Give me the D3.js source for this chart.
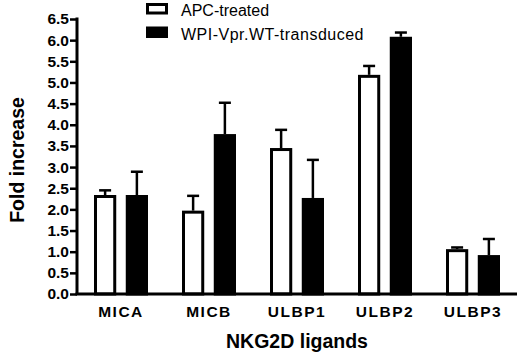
<!DOCTYPE html>
<html>
<head>
<meta charset="utf-8">
<script src="https://cdn.jsdelivr.net/npm/d3@7"></script>
<style>
  body { margin: 0; background: #fff; }
  svg { display: block; font-family: "Liberation Sans", Arial, sans-serif; }
</style>
</head>
<body>
<div id="chart"></div>
<script>
const categories = ["MICA", "MICB", "ULBP1", "ULBP2", "ULBP3"];
const seriesNames = ["APC-treated", "WPI-Vpr.WT-transduced"];
const apcMean = [2.34, 1.97, 3.45, 5.18, 1.06];
const apcErr = [0.11, 0.35, 0.43, 0.21, 0.04];
const wpiMean = [2.34, 3.78, 2.27, 6.08, 0.92];
const wpiErr = [0.55, 0.74, 0.9, 0.1, 0.38];
const yTicks = d3.range(0, 6.51, 0.5);

const width = 520, height = 361;

const svg = d3.select("#chart").append("svg")
  .attr("width", width)
  .attr("height", height);

const x0 = d3.scaleBand()
  .domain(categories)
  .range([77, 517])
  .padding(0);

const x1 = d3.scaleBand()
  .domain(seriesNames)
  .range([17, 71])
  .paddingInner(0.3);

const y = d3.scaleLinear()
  .domain([0, 6.5])
  .range([294, 19]);

let rows = [];
categories.forEach((c, i) => {
  rows.push({ cat: c, s: seriesNames[0], v: apcMean[i], e: apcErr[i] });
  rows.push({ cat: c, s: seriesNames[1], v: wpiMean[i], e: wpiErr[i] });
});

// error bars (drawn first so the bar covers the stem)
const eb = svg.append("g")
  .attr("stroke", "#000")
  .attr("stroke-width", 2.5);

rows.forEach(d => {
  const cx = x0(d.cat) + x1(d.s) + x1.bandwidth() / 2;
  eb.append("line")
    .attr("x1", cx).attr("x2", cx)
    .attr("y1", y(d.v)).attr("y2", y(d.v + d.e));
  eb.append("line")
    .attr("x1", cx - 6).attr("x2", cx + 6)
    .attr("y1", y(d.v + d.e)).attr("y2", y(d.v + d.e));
});

svg.append("g")
  .selectAll("rect")
  .data(rows)
  .join("rect")
  .attr("x", d => x0(d.cat) + x1(d.s) + 1.5)
  .attr("y", d => y(d.v) + 1.5)
  .attr("width", x1.bandwidth() - 3)
  .attr("height", d => y(0) - y(d.v) - 1.5)
  .attr("fill", d => d.s === seriesNames[0] ? "#fff" : "#000")
  .attr("stroke", "#000")
  .attr("stroke-width", 3);

// y axis
const yAxis = svg.append("g")
  .attr("transform", "translate(77,0)")
  .call(d3.axisLeft(y).tickValues(yTicks).tickFormat(d3.format(".1f")).tickSize(7).tickSizeOuter(0));
yAxis.select(".domain").attr("stroke-width", 3).attr("d", `M0,${y(6.5) - 1.5}V${y(0)}`);
yAxis.selectAll(".tick line").attr("stroke-width", 2.5);
yAxis.selectAll(".tick text")
  .attr("x", -8)
  .attr("font-size", 15.5)
  .attr("font-weight", "bold")
  .attr("fill", "#000")
  .attr("font-family", "Liberation Sans, Arial, sans-serif");

// x axis
const xAxis = svg.append("g")
  .attr("transform", `translate(0,${y(0)})`)
  .call(d3.axisBottom(x0).tickSize(0).tickSizeOuter(0));
xAxis.select(".domain").attr("stroke-width", 3).attr("d", "M75.5,0H517");
xAxis.selectAll(".tick text")
  .attr("dy", 0)
  .attr("y", 23)
  .attr("font-size", 15.5)
  .attr("font-weight", "bold")
  .attr("letter-spacing", 1.5)
  .attr("fill", "#000")
  .attr("font-family", "Liberation Sans, Arial, sans-serif");

// axis titles
svg.append("text")
  .attr("transform", "translate(24,160) rotate(-90)")
  .attr("text-anchor", "middle")
  .attr("font-size", 19.5)
  .attr("font-weight", "bold")
  .text("Fold increase");

svg.append("text")
  .attr("x", 297)
  .attr("y", 348)
  .attr("text-anchor", "middle")
  .attr("font-size", 19.5)
  .attr("font-weight", "bold")
  .text("NKG2D ligands");

// legend
const legend = svg.append("g");
seriesNames.forEach((s, i) => {
  legend.append("rect")
    .attr("x", 147.5).attr("y", 4.5 + i * 23.5)
    .attr("width", 19).attr("height", 8.5)
    .attr("fill", i === 0 ? "#fff" : "#000")
    .attr("stroke", "#000")
    .attr("stroke-width", 3);
  legend.append("text")
    .attr("x", 181).attr("y", 16 + i * 23.5)
    .attr("font-size", 16)
    .attr("letter-spacing", i === 1 ? 0.5 : 0)
    .text(s);
});
</script>
</body>
</html>
